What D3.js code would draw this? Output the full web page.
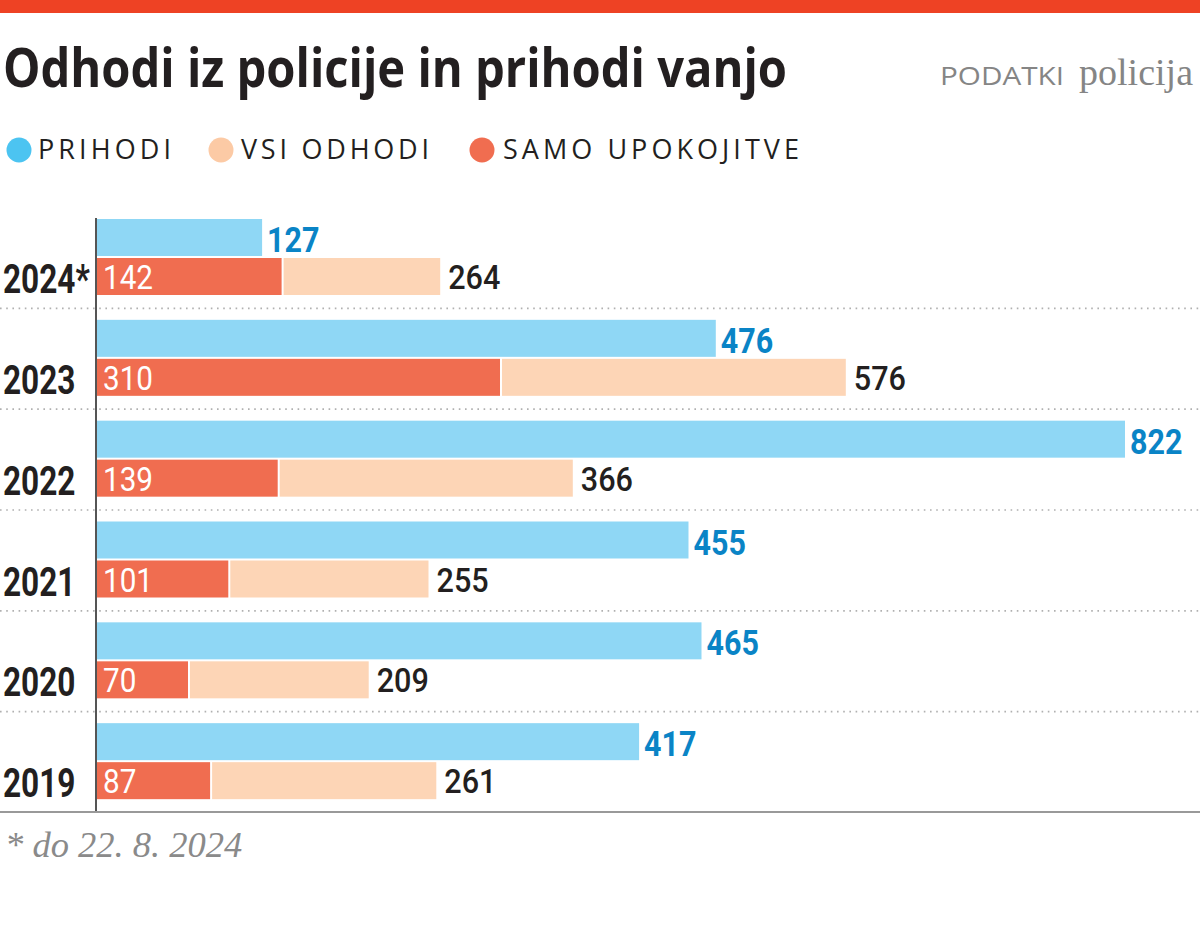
<!DOCTYPE html>
<html><head><meta charset="utf-8">
<script src="https://cdn.jsdelivr.net/npm/d3@7"></script>
<style>
html,body{margin:0;padding:0;background:#fff;}
svg{display:block;}
</style></head>
<body>
<script>
const years = ["2024*", "2023", "2022", "2021", "2020", "2019"];
const prihodi = [127, 476, 822, 455, 465, 417];
const vsiOdhodi = [264, 576, 366, 255, 209, 261];
const upokojitve = [142, 310, 139, 101, 70, 87];
const legendLabels = ["PRIHODI", "VSI ODHODI", "SAMO UPOKOJITVE"];

const W = 1200, H = 943;
const C = {blue:"#8fd7f5", blueDot:"#4cc4f1", blueText:"#0a84c6", peach:"#fdd5b6", peachDot:"#fccaa5",
           red:"#f06d50", dark:"#231f20", gray:"#858585"};

const svg = d3.select("body").append("svg").attr("width", W).attr("height", H);

// top bar
svg.append("rect").attr("x",0).attr("y",0).attr("width",W).attr("height",13).attr("fill","#ee4224");

// title
svg.append("text").attr("x",3).attr("y",87)
  .attr("font-family","'Open Sans', Roboto, sans-serif").attr("font-weight",700)
  .attr("font-size",54).attr("fill",C.dark)
  .attr("textLength",784).attr("lengthAdjust","spacingAndGlyphs")
  .text("Odhodi iz policije in prihodi vanjo");

// source
svg.append("text").attr("x",940).attr("y",85).attr("fill",C.gray)
  .attr("font-family","'Open Sans', Roboto, sans-serif").attr("font-size",26)
  .attr("textLength",124).attr("lengthAdjust","spacingAndGlyphs").text("PODATKI");
svg.append("text").attr("x",1193).attr("y",85).attr("text-anchor","end").attr("fill",C.gray)
  .attr("font-family","'Liberation Serif', 'DejaVu Serif', serif").attr("font-size",38).text("policija");

// legend
const legendItems = [
  {label:legendLabels[0], color:C.blueDot, cx:19, tx:38, len:133},
  {label:legendLabels[1], color:C.peachDot, cx:221, tx:241, len:188},
  {label:legendLabels[2], color:C.red, cx:482, tx:503, len:296}
];
const lg = svg.append("g");
legendItems.forEach(d => {
  lg.append("circle").attr("cx",d.cx).attr("cy",150).attr("r",12.5).attr("fill",d.color);
  lg.append("text").attr("x",d.tx).attr("y",159).attr("font-family","'Open Sans', Roboto, sans-serif")
    .attr("font-size",27).attr("fill",C.dark)
    .attr("textLength",d.len).attr("lengthAdjust","spacing").text(d.label);
});

// scales
const x0 = 97;
const x = d3.scaleLinear().domain([0, 800]).range([x0, x0 + 1040]);
const xMax = 1125; // longest bar is shortened to leave room for its label
const xe = v => Math.min(x(v), xMax);
const y = d3.scaleBand().domain(years).range([207, 812]);

const data = years.map((yr,i) => ({yr, p:prihodi[i], o:vsiOdhodi[i], u:upokojitve[i]}));

// dotted separators
svg.append("g").selectAll("line").data(years.slice(1)).join("line")
  .attr("x1",0).attr("x2",W).attr("y1",d=>y(d)+0.5).attr("y2",d=>y(d)+0.5)
  .attr("stroke","#b0b0b0").attr("stroke-width",1.6).attr("stroke-dasharray","1.6,4.6");

const g = svg.append("g").selectAll("g").data(data).join("g")
  .attr("transform", d => `translate(0,${y(d.yr)})`);

// blue bars
g.append("rect").attr("x",x0).attr("y",12).attr("height",37)
  .attr("width", d => xe(d.p) - x0).attr("fill", C.blue);
// peach bars
g.append("rect").attr("x", d => x(d.u) + 2).attr("y",51).attr("height",37)
  .attr("width", d => xe(d.o) - x(d.u) - 2).attr("fill", C.peach);
// red bars
g.append("rect").attr("x",x0).attr("y",51).attr("height",37)
  .attr("width", d => x(d.u) - x0).attr("fill", C.red);

function condText(sel, sx, xf, yv, opts){
  sel.append("text")
    .attr("transform", d => `translate(${xf(d)},${yv}) scale(${sx},1)`)
    .attr("font-family","Roboto, sans-serif")
    .attr("font-size", opts.size).attr("font-weight", opts.weight).attr("fill", opts.fill)
    .text(opts.text);
}
// value labels
condText(g, 0.87, d => xe(d.p) + 5, 45, {size:35, weight:700, fill:C.blueText, text:d=>d.p});
condText(g, 0.9, d => xe(d.o) + 8, 82, {size:34, weight:500, fill:C.dark, text:d=>d.o});
condText(g, 0.9, d => x0 + 6, 82, {size:33, weight:400, fill:"#fff", text:d=>d.u});
// year labels
condText(g, 0.77, d => 3, 86, {size:41, weight:700, fill:C.dark, text:d=>d.yr});

// axis line
svg.append("line").attr("x1",96).attr("x2",96).attr("y1",218).attr("y2",812)
  .attr("stroke","#555").attr("stroke-width",2);
// bottom line
svg.append("line").attr("x1",0).attr("x2",W).attr("y1",812).attr("y2",812)
  .attr("stroke","#999").attr("stroke-width",2);

// footnote
svg.append("text").attr("x",5).attr("y",857)
  .attr("font-family","'Liberation Serif', 'DejaVu Serif', serif").attr("font-style","italic")
  .attr("font-size",36.5).attr("fill","#8a8a8a").text("* do 22. 8. 2024");
</script>
</body></html>
